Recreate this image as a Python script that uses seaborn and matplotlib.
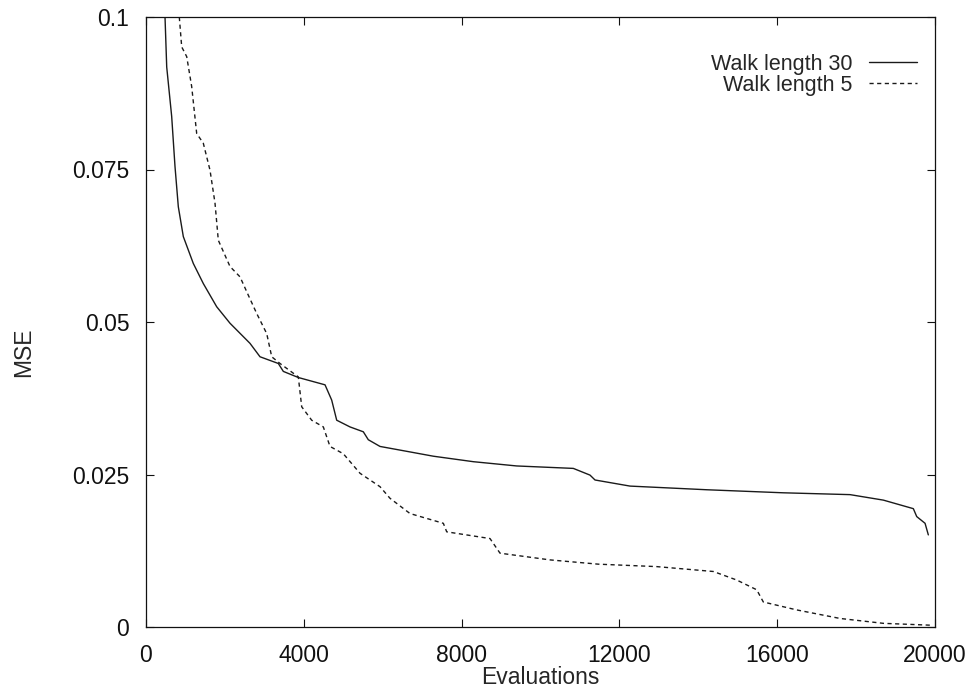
import pandas as pd
import seaborn as sns
import matplotlib.pyplot as plt

# values
evals_30 = [482, 525, 651, 735, 819, 946, 1199, 1453, 1792, 2129, 2636, 2890,
            3354, 3481, 3861, 4538, 4707, 4834, 5171, 5509, 5635, 5932, 6609,
            7283, 8297, 9397, 10832, 11255, 11382, 12269, 14214, 16156, 17846,
            18691, 19451, 19537, 19748, 19831]
mse_30 = [0.100, 0.0918, 0.0837, 0.0755, 0.0689, 0.0640, 0.0596, 0.0563,
          0.0525, 0.0498, 0.0465, 0.0443, 0.0432, 0.0419, 0.0409, 0.0397,
          0.0372, 0.0339, 0.0328, 0.0320, 0.0307, 0.0296, 0.0288, 0.0280,
          0.0271, 0.0264, 0.0260, 0.0249, 0.0241, 0.0231, 0.0225, 0.0220,
          0.0217, 0.0208, 0.0194, 0.0181, 0.0170, 0.0151]

evals_5 = [844, 905, 1032, 1158, 1285, 1453, 1622, 1749, 1833, 2129, 2383,
           2593, 2806, 3060, 3187, 3397, 3861, 3947, 4200, 4495, 4664, 5002,
           5425, 5932, 6185, 6692, 7537, 7623, 8720, 8974, 10241, 11466, 12946,
           14381, 14974, 15481, 15648, 16495, 17593, 18691, 19874]
mse_5 = [0.100, 0.0951, 0.0935, 0.0886, 0.0809, 0.0793, 0.0749, 0.0695,
         0.0634, 0.0591, 0.0574, 0.0544, 0.0514, 0.0481, 0.0443, 0.0432,
         0.0410, 0.0361, 0.0339, 0.0328, 0.0296, 0.0284, 0.0252, 0.0230,
         0.0211, 0.0186, 0.0170, 0.0156, 0.0145, 0.0121, 0.0110, 0.0103,
         0.0099, 0.0091, 0.0077, 0.0061, 0.0041, 0.0028, 0.0014, 0.0006,
         0.0003]

x_ticks = [0, 4000, 8000, 12000, 16000, 20000]
y_ticks = [0, 0.025, 0.05, 0.075, 0.1]
y_tick_labels = ['0', '0.025', '0.05', '0.075', '0.1']

sns.set_theme(style='ticks')
plt.rcParams['font.family'] = ['Liberation Sans', 'DejaVu Sans']

df30 = pd.DataFrame({'Evaluations': evals_30, 'MSE': mse_30})
df5 = pd.DataFrame({'Evaluations': evals_5, 'MSE': mse_5})

fig = plt.figure(figsize=(9.76, 6.94), dpi=100)
ax = fig.add_axes([146 / 976, 67 / 694, 789 / 976, 610 / 694])

sns.lineplot(data=df30, x='Evaluations', y='MSE', ax=ax, color='#1a1a1a',
             linewidth=1.0, label='Walk length 30')
sns.lineplot(data=df5, x='Evaluations', y='MSE', ax=ax, color='#1a1a1a',
             linewidth=1.0, linestyle=(0, (3, 2.5)), label='Walk length 5')

ax.set_xlim(0, 20000)
ax.set_ylim(0, 0.1)
ax.set_xticks(x_ticks)
ax.set_xticklabels([str(t) for t in x_ticks])
ax.set_yticks(y_ticks)
ax.set_yticklabels(y_tick_labels)

ax.tick_params(direction='in', length=6, width=0.8, top=True, right=True,
               labelsize=16.5, pad=12, colors='#111111')
for sp in ax.spines.values():
    sp.set_linewidth(0.9)
    sp.set_color('#111111')

ax.set_xlabel('Evaluations', fontsize=16.5)
ax.set_ylabel('MSE', fontsize=16.5)
ax.xaxis.set_label_coords(0.5, -0.064)
ax.yaxis.set_label_coords(-0.141, 0.45)

ax.legend(loc='upper right', bbox_to_anchor=(0.977, 0.94), frameon=False,
          markerfirst=False, fontsize=15.5, handlelength=2.2,
          handletextpad=0.8, labelspacing=0.0, borderpad=0,
          borderaxespad=0)

plt.savefig('out.png', dpi=100)
